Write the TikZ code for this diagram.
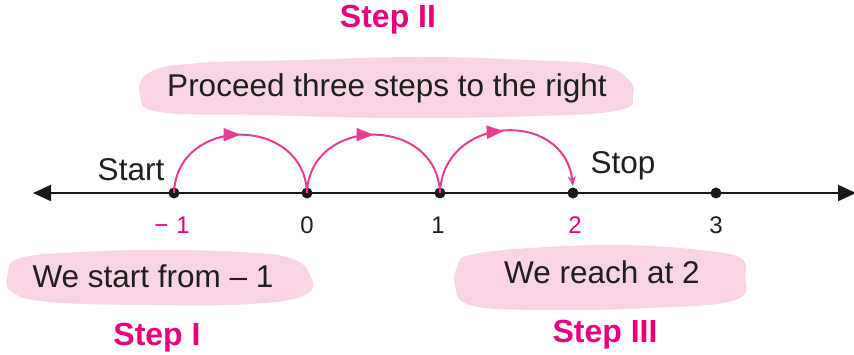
\documentclass[tikz,border=0pt]{standalone}
\usepackage{fontspec}
\setmainfont{Liberation Sans}
\usetikzlibrary{arrows.meta,decorations.markings}
\definecolor{cloudpink}{HTML}{F9D4E4}
\definecolor{magenta}{HTML}{E6007E}
\definecolor{arcpink}{HTML}{E53D8F}
\tikzset{
  cloudfill/.style={fill=cloudpink, draw=none},
  bigtext/.style={font=\fontsize{31.5}{36}\selectfont, text=black!88, inner sep=0pt},
  steptitle/.style={font=\fontsize{32}{36}\selectfont\bfseries, text=magenta, inner sep=0pt},
  numlab/.style={font=\fontsize{24}{28}\selectfont, text=black!88, inner sep=0pt},
  dotpt/.style={circle, fill=black!90, inner sep=0pt, minimum size=11pt},
  hop/.style={draw=arcpink, line width=2pt, looseness=1.5,
    postaction={decorate},
    decoration={markings, mark=at position 0.5 with {\arrow{Triangle[length=17pt,width=13pt]}}}},
  axisline/.style={line width=2.2pt, black!90, {Triangle[length=18pt,width=16pt]}-{Triangle[length=18pt,width=16pt]}}
}
\begin{document}
\begin{tikzpicture}[x=1pt,y=-1pt]
\useasboundingbox (0,0) rectangle (854,355);
% clouds
\fill[cloudfill] plot[smooth cycle, tension=0.7] coordinates {(150,72) (200,63) (300,60) (420,57) (530,60) (600,65) (628,79) (633,95) (620,110) (540,116) (400,118) (260,115) (160,112) (140,95)};
\fill[cloudfill] plot[smooth cycle, tension=0.7] coordinates {(20,258) (80,252) (160,250) (240,252) (290,258) (310,275) (305,295) (250,304) (150,305) (50,302) (12,292) (8,273)};
\fill[cloudfill] plot[smooth cycle, tension=0.7] coordinates {(470,255) (530,248) (620,245) (700,250) (740,258) (745,275) (735,300) (650,308) (540,310) (470,305) (455,285) (458,265)};
% axis
\coordinate (L) at (33,193);
\coordinate (R) at (856,193);
\draw[axisline] (L) -- (R);
\node[dotpt] (m1) at (174,193) {};
\node[dotpt] (p0) at (307,193) {};
\node[dotpt] (p1) at (440,193) {};
\node[dotpt] (p2) at (573,193) {};
\node[dotpt] (p3) at (716,193) {};
% labels
\node[numlab, text=magenta] (lm1) at (172,225) {\char"2212\,\,1};
\node[numlab] (l0) at (307,225) {0};
\node[numlab] (l1) at (438,225) {1};
\node[numlab, text=magenta] (l2) at (575,225) {2};
\node[numlab] (l3) at (716,225) {3};
\node[bigtext] (start) at (131,170) {Start};
\node[bigtext] (stop) at (623,166) {Stop};
% hops
\draw[hop] (m1.center) to[out=88,in=92] (p0.center);
\draw[hop] (p0.center) to[out=88,in=92] (p1.center);
\coordinate (p2top) at (573,186);
\draw[hop, -{Stealth[length=10pt,width=8pt]}] (p1.center) to[out=88,in=97] (p2top);
% texts
\node[bigtext] (proceed) at (387,88) {Proceed three steps to the right};
\node[bigtext] (wstart) at (153,276) {We start from -- 1};
\node[bigtext] (wreach) at (602,272) {We reach at 2};
\node[steptitle] (s2) at (388,20) {Step II};
\node[steptitle] (s1) at (157,338) {Step I};
\node[steptitle] (s3) at (605,335) {Step III};
\end{tikzpicture}
\end{document}
